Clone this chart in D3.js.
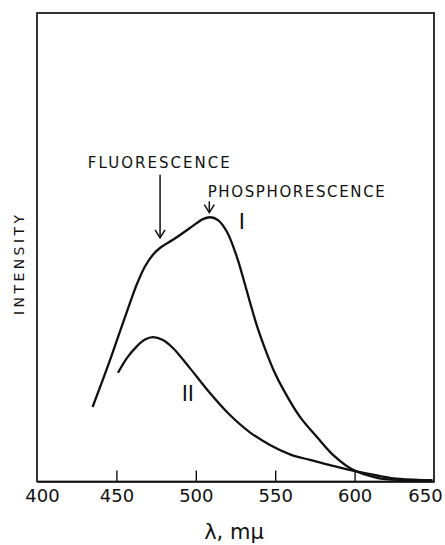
<!DOCTYPE html>
<html>
<head>
<meta charset="utf-8">
<script src="https://cdn.jsdelivr.net/npm/d3@7"></script>
<style>
  body { margin: 0; background: #fff; }
  svg { display: block; }
  text { font-family: "DejaVu Sans", sans-serif; fill: #111; }
</style>
</head>
<body>
<div id="plot"></div>
<script>
// wavelength (m\u03bc) and relative intensity
var curveI = [
    [435, 15.9], [445, 25.0], [452, 31.8], [458, 37.6], [463, 42.2], [468, 45.9],
    [473, 48.4], [478, 50.0], [485.6, 51.6], [496.3, 54.1], [504.5, 56.0],
    [509, 56.4], [514, 55.8], [519.6, 53.3], [525.9, 47.9], [529.7, 43.6],
    [534.1, 38.3], [538.5, 33.2], [543.6, 28.3], [549.2, 23.6], [555.5, 19.4],
    [565.6, 13.8], [576.3, 9.5], [586.4, 5.7], [599, 2.5], [614, 0.8],
    [628.5, 0.3], [649, 0.25]
];
var curveII = [
    [451, 23.2], [456.7, 26.4], [463, 28.9], [468, 30.3], [473, 30.8],
    [479.3, 30.2], [485.6, 28.5], [496.3, 24.2], [508.9, 18.9], [521.5, 14.2],
    [534.1, 10.5], [546.7, 7.8], [559.3, 5.8], [571.9, 4.6], [584.5, 3.5],
    [599, 2.3], [614.1, 1.28], [628.6, 0.53], [649, 0.21]
];
var xTicks = [400, 450, 500, 550, 600, 650];

// arrows: label, wavelength, label baseline intensity, arrow start, arrow tip
var arrows = [
    {'label': 'FLUORESCENCE', 'lambda': 477.5, 'textLambda': 432, 'textI': 66.9, 'from': 65.5, 'to': 52.0, 'len': 142},
    {'label': 'PHOSPHORESCENCE', 'lambda': 508.5, 'textLambda': 507.5, 'textI': 60.7, 'from': 59.8, 'to': 57.4, 'len': 177}
];
// curve names
var curveLabels = [
    {'name': 'I', 'lambda': 529, 'value': 53.8},
    {'name': 'II', 'lambda': 495, 'value': 17.2}
];

var width = 445,
    height = 545;

// scales and axes
var xScale = d3.scaleLinear()
    .domain([400, 650])
    .range([37, 434]);

var yScale = d3.scaleLinear()
    .domain([0, 100])
    .range([481.5, 13]);

var xAxis = d3.axisBottom()
    .scale(xScale)
    .tickValues(xTicks)
    .tickSizeInner(-11)
    .tickSizeOuter(0)
    .tickPadding(8);

var svg = d3.select('#plot').append('svg')
    .attr('width', width)
    .attr('height', height);

// frame round the plot
svg.append('rect')
    .attr('x', xScale(400))
    .attr('y', yScale(100))
    .attr('width', xScale(650) - xScale(400))
    .attr('height', yScale(0) - yScale(100))
    .attr('fill', 'none')
    .attr('stroke', '#111')
    .attr('stroke-width', 1.7);

var gx = svg.append('g')
    .attr('transform', 'translate(0,' + yScale(0) + ')')
    .call(xAxis);
gx.select('.domain').attr('stroke', '#111').attr('stroke-width', 1.7);
gx.selectAll('.tick line')
    .attr('stroke', '#111')
    .attr('stroke-width', 1.4)
    .attr('display', function(d) { return (d === 400 || d === 650) ? 'none' : null; });
gx.selectAll('.tick text')
    .attr('font-size', 18)
    .attr('font-family', '"DejaVu Sans", sans-serif')
    .attr('fill', '#111')
    .attr('dx', function(d) { return d === 400 ? 5 : (d === 650 ? -9 : 0); });

// axis titles
svg.append('text')
    .attr('x', 234)
    .attr('y', 539)
    .attr('text-anchor', 'middle')
    .attr('font-size', 21)
    .text('\u03bb, m\u03bc');

svg.append('text')
    .attr('transform', 'translate(24,265) rotate(-90)')
    .attr('text-anchor', 'middle')
    .attr('font-size', 14)
    .attr('textLength', 100)
    .attr('lengthAdjust', 'spacing')
    .text('INTENSITY');

// spectra
var line = d3.line()
    .x(function(d) { return xScale(d[0]); })
    .y(function(d) { return yScale(d[1]); })
    .curve(d3.curveCatmullRom.alpha(0.5));

svg.selectAll('.spectrum')
    .data([curveI, curveII])
    .enter().append('path')
    .attr('class', 'spectrum')
    .attr('d', line)
    .attr('fill', 'none')
    .attr('stroke', '#111')
    .attr('stroke-width', 2.3)
    .attr('stroke-linejoin', 'round');

// annotations with arrows
var ann = svg.selectAll('.ann')
    .data(arrows)
    .enter().append('g')
    .attr('class', 'ann');

ann.append('text')
    .attr('x', function(d) { return xScale(d.textLambda); })
    .attr('y', function(d) { return yScale(d.textI); })
    .attr('font-size', 15)
    .attr('textLength', function(d) { return d.len; })
    .attr('lengthAdjust', 'spacing')
    .text(function(d) { return d.label; });

ann.append('line')
    .attr('x1', function(d) { return xScale(d.lambda); })
    .attr('x2', function(d) { return xScale(d.lambda); })
    .attr('y1', function(d) { return yScale(d.from); })
    .attr('y2', function(d) { return yScale(d.to); })
    .attr('stroke', '#111')
    .attr('stroke-width', 1.5);

ann.append('path')
    .attr('d', function(d) {
        var x = xScale(d.lambda), y = yScale(d.to);
        return 'M' + (x - 5) + ',' + (y - 8) + 'L' + x + ',' + y + 'L' + (x + 5) + ',' + (y - 8);
    })
    .attr('fill', 'none')
    .attr('stroke', '#111')
    .attr('stroke-width', 1.5);

svg.selectAll('.curve-label')
    .data(curveLabels)
    .enter().append('text')
    .attr('class', 'curve-label')
    .attr('x', function(d) { return xScale(d.lambda); })
    .attr('y', function(d) { return yScale(d.value); })
    .attr('text-anchor', 'middle')
    .attr('font-family', '"DejaVu Serif", serif')
    .attr('font-size', 21)
    .text(function(d) { return d.name; });
</script>
</body>
</html>
